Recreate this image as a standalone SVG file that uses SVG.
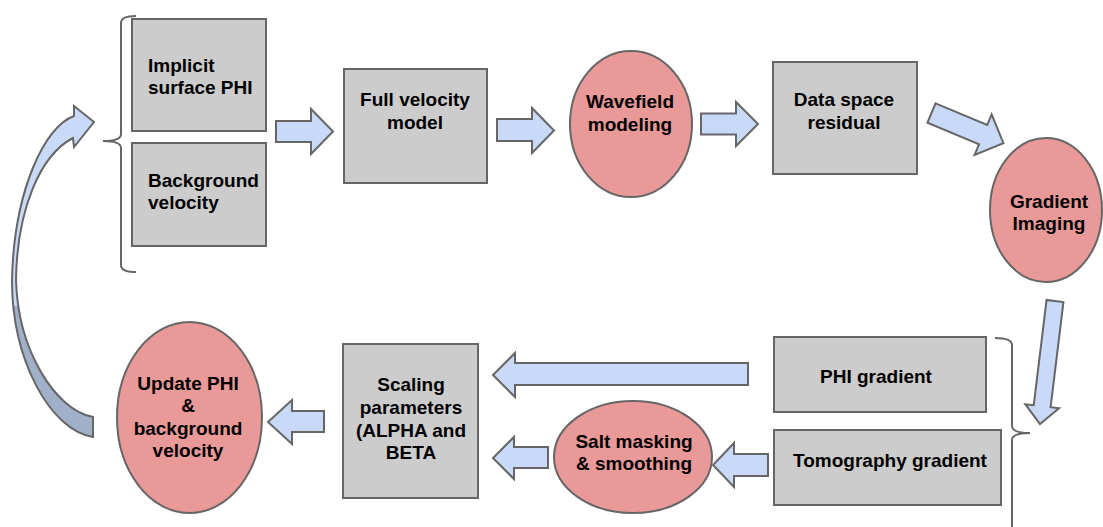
<svg xmlns="http://www.w3.org/2000/svg" width="1103" height="527" viewBox="0 0 1103 527">
  <defs>
    <!-- lower section of the return arrow is shown in a darker shade -->
    <linearGradient id="curveFill" gradientUnits="userSpaceOnUse" x1="0" y1="0" x2="0" y2="527">
      <stop offset="0" stop-color="#c9daf8"/>
      <stop offset="0.58" stop-color="#c9daf8"/>
      <stop offset="0.58" stop-color="#a0b0c9"/>
      <stop offset="1" stop-color="#a0b0c9"/>
    </linearGradient>
  </defs>
  <style>
    .box { fill: #cccccc; stroke: #666666; stroke-width: 2; }
    .oval { fill: #ea9999; stroke: #666666; stroke-width: 2; }
    .arrow { fill: #c9daf8; stroke: #666666; stroke-width: 2; stroke-linejoin: miter; }
    .brace { fill: none; stroke: #666666; stroke-width: 2; }
    text { font-family: "Liberation Sans", Arial, sans-serif; font-weight: bold; font-size: 19px; fill: #000000; }
    .c { text-anchor: middle; }
  </style>
  <rect width="1103" height="527" fill="#ffffff"/>

  <!-- braces grouping inputs and gradients -->
  <g id="braces">
    <path class="brace" d="M136,16 Q121,16 121,23 L121,134 Q121,141 103,141 Q121,141 121,148 L121,265 Q121,272 136,272"/>
    <path class="brace" d="M995,338 Q1012,338 1012,345 L1012,426 Q1012,433 1030,433 Q1012,433 1012,440 L1012,530"/>
  </g>

  <!-- connectors -->
  <g id="connectors">
    <path d="M94,122 L74,106 L74,116 C45,126 14,190 12,280 C12,360 50,430 93,437 L93,417 C55,410 18,350 16,280 C17,210 40,155 73,138 L74,147 Z" fill="url(#curveFill)" stroke="#666666" stroke-width="2" stroke-linejoin="miter"/>
    <polygon class="arrow" points="276,121 311,121 311,109 333,131.5 311,154 311,142 276,142"/>
    <polygon class="arrow" points="497,119 532,119 532,108 554,130.5 532,153 532,141 497,141"/>
    <polygon class="arrow" points="701,113.5 736,113.5 736,102 758,124 736,146 736,134.5 701,134.5"/>
    <polygon class="arrow" transform="translate(931.5,113) rotate(22.8)" points="0,-10.5 56,-10.5 56,-22 78,0 56,22 56,10.5 0,10.5"/>
    <polygon class="arrow" transform="translate(1055,301) rotate(96.95)" points="0,-8.5 106,-8.5 106,-17 124,0 106,17 106,8.5 0,8.5"/>
    <polygon class="arrow" points="748,363 515,363 515,353 493,375 515,397 515,385 748,385"/>
    <polygon class="arrow" points="768,454 734,454 734,443 713,465 734,487 734,476 768,476"/>
    <polygon class="arrow" points="548,447 514,447 514,437 493,458 514,479 514,468 548,468"/>
    <polygon class="arrow" points="324,411 292,411 292,400 268,422 292,444 292,432 324,432"/>
  </g>

  <g id="implicit-surface">
    <rect class="box" x="132" y="19" width="134" height="112"/>
    <text x="148" y="72">Implicit</text>
    <text x="148" y="94">surface PHI</text>
  </g>

  <g id="background-velocity">
    <rect class="box" x="132" y="143" width="134" height="103"/>
    <text x="148" y="187">Background</text>
    <text x="148" y="209">velocity</text>
  </g>

  <g id="full-velocity">
    <rect class="box" x="344" y="69" width="143" height="114"/>
    <text class="c" x="415" y="106">Full velocity</text>
    <text class="c" x="415" y="129">model</text>
  </g>

  <g id="wavefield">
    <ellipse class="oval" cx="631" cy="124" rx="61" ry="73"/>
    <text class="c" x="630" y="108">Wavefield</text>
    <text class="c" x="630" y="131">modeling</text>
  </g>

  <g id="data-residual">
    <rect class="box" x="773" y="62" width="144" height="112"/>
    <text class="c" x="844" y="106">Data space</text>
    <text class="c" x="844" y="129">residual</text>
  </g>

  <g id="gradient-imaging">
    <ellipse class="oval" cx="1046" cy="210" rx="56" ry="72"/>
    <text class="c" x="1049" y="208">Gradient</text>
    <text class="c" x="1049" y="230">Imaging</text>
  </g>

  <g id="phi-gradient">
    <rect class="box" x="774" y="337" width="212" height="75"/>
    <text class="c" x="876" y="383">PHI gradient</text>
  </g>

  <g id="tomography-gradient">
    <rect class="box" x="774" y="430" width="227" height="75"/>
    <text class="c" x="890" y="467">Tomography gradient</text>
  </g>

  <g id="salt-masking">
    <ellipse class="oval" cx="633" cy="457" rx="79" ry="56"/>
    <text class="c" x="634" y="448">Salt masking</text>
    <text class="c" x="634" y="470">&amp; smoothing</text>
  </g>

  <g id="scaling">
    <rect class="box" x="343" y="344" width="135" height="154"/>
    <text class="c" x="411" y="391">Scaling</text>
    <text class="c" x="411" y="414">parameters</text>
    <text class="c" x="411" y="437">(ALPHA and</text>
    <text class="c" x="411" y="459">BETA</text>
  </g>

  <g id="update">
    <ellipse class="oval" cx="189.5" cy="417.5" rx="72.5" ry="95.5"/>
    <text class="c" x="188" y="390">Update PHI</text>
    <text class="c" x="188" y="412">&amp;</text>
    <text class="c" x="188" y="435">background</text>
    <text class="c" x="188" y="457">velocity</text>
  </g>
</svg>
